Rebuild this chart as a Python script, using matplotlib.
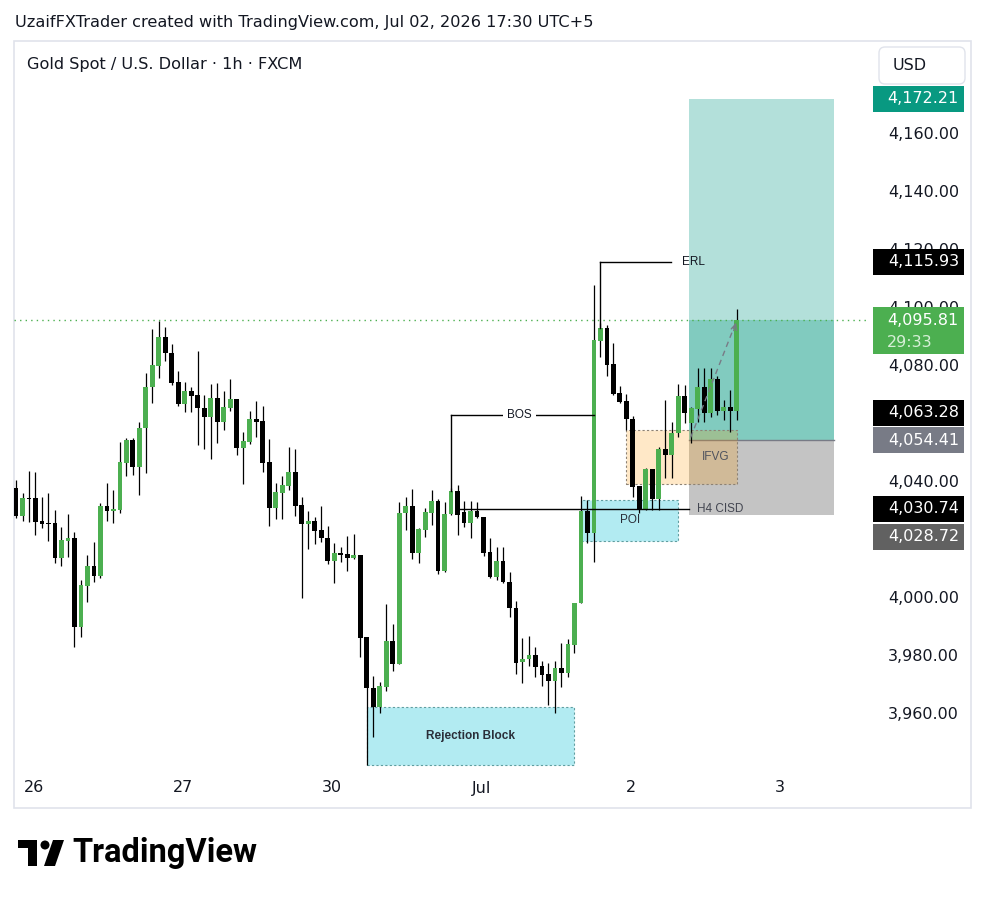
import matplotlib
matplotlib.use("Agg")
import matplotlib.pyplot as plt
from matplotlib.patches import Rectangle, Polygon, Circle, FancyBboxPatch
from matplotlib.transforms import blended_transform_factory

# XAUUSD 1h candles (oldest first)
opens = [4037.9, 4028.3, 4034.4, 4034.5, 4026.6, 4025.6, 4025.9, 4013.8, 4019.7, 4020.7,
         3990.0, 4004.1, 4011.0, 4007.6, 4031.7, 4030.0, 4030.3, 4046.6, 4054.5, 4045.2,
         4058.6, 4072.8, 4080.0, 4090.0, 4084.5, 4074.5, 4066.9, 4071.4, 4070.0, 4065.5,
         4062.4, 4069.0, 4060.7, 4065.5, 4068.6, 4051.7, 4053.8, 4061.7, 4061.0, 4046.9,
         4031.0, 4036.2, 4038.6, 4043.4, 4032.1, 4025.5, 4026.6, 4023.4, 4020.7, 4012.8,
         4015.5, 4015.2, 4013.8, 4014.8, 3986.6, 3969.0, 3962.4, 3969.3, 3985.2, 3977.2,
         4029.3, 4031.7, 4015.5, 4023.4, 4029.3, 4033.4, 4009.3, 4029.0, 4036.9, 4029.7,
         4025.9, 4030.0, 4027.9, 4015.9, 4007.2, 4012.8, 4005.5, 3996.6, 3977.9, 3979.0,
         3980.3, 3976.6, 3973.8, 3971.4, 3975.9, 3974.1, 3983.8, 3998.3, 4030.0, 4022.4,
         4088.6, 4093.1, 4080.7, 4070.7, 4067.9, 4061.7, 4038.6, 4030.3, 4044.5, 4034.1,
         4051.4, 4049.3, 4056.9, 4069.7, 4060.3, 4065.2, 4072.8, 4063.8, 4075.5, 4064.5,
         4065.9, 4064.5]
highs = [4040.7, 4036.2, 4043.8, 4043.4, 4034.8, 4036.2, 4030.3, 4024.5, 4029.0, 4022.8,
         4006.2, 4014.8, 4019.3, 4032.8, 4039.7, 4037.2, 4053.8, 4055.2, 4055.2, 4060.7,
         4077.6, 4092.8, 4095.5, 4093.4, 4087.6, 4078.3, 4074.5, 4072.8, 4085.2, 4070.0,
         4073.8, 4074.1, 4071.4, 4075.5, 4068.6, 4057.2, 4064.5, 4067.9, 4066.2, 4054.8,
         4039.7, 4042.1, 4052.1, 4051.4, 4034.8, 4030.0, 4027.9, 4031.7, 4024.8, 4019.0,
         4017.6, 4021.4, 4022.1, 4014.8, 3986.6, 3973.1, 3971.0, 3997.9, 3991.0, 4033.1,
         4034.8, 4037.6, 4024.1, 4031.0, 4037.2, 4034.1, 4033.1, 4038.0, 4039.0, 4033.4,
         4033.4, 4033.1, 4027.9, 4020.7, 4017.6, 4017.6, 4009.0, 3999.0, 3986.2, 3986.9,
         3983.1, 3978.3, 3977.6, 3978.3, 3984.5, 3985.9, 3998.3, 4035.2, 4033.8, 4107.9,
         4094.8, 4094.1, 4087.9, 4073.1, 4070.3, 4062.8, 4038.6, 4044.8, 4044.5, 4052.1,
         4068.3, 4060.7, 4073.8, 4073.4, 4065.9, 4079.3, 4079.3, 4079.3, 4076.6, 4068.3,
         4071.7, 4099.7]
lows = [4027.6, 4026.6, 4026.2, 4021.7, 4024.1, 4019.7, 4012.1, 4011.0, 4014.1, 3983.1,
        3986.6, 3998.6, 4005.5, 4006.9, 4026.6, 4025.9, 4029.3, 4042.1, 4042.4, 4035.5,
        4043.1, 4067.2, 4075.9, 4081.7, 4073.4, 4066.2, 4064.1, 4064.1, 4052.8, 4051.4,
        4047.9, 4053.4, 4057.9, 4064.5, 4049.3, 4039.3, 4053.1, 4055.5, 4043.4, 4024.8,
        4027.2, 4027.2, 4037.2, 4028.3, 4000.0, 4016.9, 4018.6, 4019.3, 4011.7, 4005.2,
        4012.4, 4009.3, 4013.4, 3979.7, 3942.4, 3952.1, 3960.3, 3967.9, 3974.8, 3977.2,
        4023.4, 4013.4, 4012.1, 4021.0, 4025.2, 4008.3, 4009.0, 4028.6, 4021.7, 4024.5,
        4020.7, 4027.6, 4014.5, 4006.9, 4006.2, 4005.2, 3993.4, 3973.8, 3970.7, 3976.6,
        3972.8, 3969.7, 3963.1, 3960.3, 3969.3, 3972.8, 3981.0, 3998.3, 4019.0, 4012.4,
        4083.1, 4076.6, 4070.0, 4067.2, 4057.9, 4034.8, 4029.3, 4030.3, 4030.3, 4030.3,
        4041.4, 4041.4, 4055.5, 4060.3, 4053.4, 4060.7, 4060.7, 4062.4, 4063.1, 4061.4,
        4057.2, 4061.4]
closes = [4028.3, 4034.5, 4034.2, 4026.2, 4025.7, 4025.4, 4013.8, 4020.0, 4020.7, 3990.0,
          4004.5, 4011.0, 4007.6, 4031.7, 4030.0, 4030.7, 4046.9, 4054.5, 4045.2, 4058.6,
          4072.8, 4080.3, 4090.0, 4084.5, 4074.1, 4066.9, 4071.4, 4069.7, 4065.5, 4062.4,
          4069.0, 4060.7, 4065.9, 4068.6, 4051.7, 4054.1, 4061.7, 4060.7, 4046.6, 4031.0,
          4036.6, 4039.0, 4043.4, 4031.7, 4025.5, 4026.6, 4023.1, 4020.7, 4012.8, 4015.5,
          4015.0, 4013.8, 4014.8, 3986.2, 3969.0, 3962.4, 3969.7, 3985.2, 3977.2, 4029.3,
          4031.7, 4015.5, 4023.8, 4029.7, 4033.4, 4009.3, 4029.0, 4036.9, 4028.6, 4025.9,
          4030.0, 4027.9, 4015.5, 4007.2, 4012.8, 4005.5, 3996.6, 3977.6, 3979.0, 3980.3,
          3976.2, 3973.4, 3971.4, 3975.9, 3974.1, 3984.1, 3998.3, 4030.0, 4022.4, 4089.0,
          4093.1, 4080.3, 4070.3, 4067.6, 4061.7, 4038.3, 4030.3, 4044.5, 4034.1, 4051.4,
          4049.3, 4056.9, 4069.7, 4063.8, 4065.5, 4072.8, 4063.8, 4075.5, 4064.5, 4065.9,
          4064.5, 4095.81]

day_labels = ["26", "27", "30", "Jul", "2", "3"]
day_starts = [3, 26, 49, 72, 95, 118]
# 4,060 and 4,020 sit fully under the price tags in the screenshot
price_ticks = [3960, 3980, 4000, 4040, 4080, 4100, 4120, 4140, 4160]

last_price = 4095.81
countdown = "29:33"
take_profit = 4172.21
entry = 4054.41
stop_loss = 4028.72
erl_level = 4115.93
bos_level = 4063.28
cisd_level = 4030.74

# drawn boxes: (first bar, last bar, low, high)
rejection_block = (54, 86, 3942.4, 3962.4)
poi_box = (87, 102, 4019.7, 4033.8)
ifvg_box = (94, 111, 4039.3, 4057.9)
position_bars = (103.7, 126)

GREEN = "#4caf50"
TEXT = "#131722"
W, H = 987, 898
L, R, T, B = 14, 866, 41, 775
ymin, ymax = 3938.97, 4192.1

fig = plt.figure(figsize=(W / 100, H / 100), dpi=100)
fig.patch.set_facecolor("white")
bg = fig.add_axes([0, 0, 1, 1])
bg.set_xlim(0, W)
bg.set_ylim(H, 0)
bg.axis("off")

ax = fig.add_axes([L / W, 1 - B / H, (R - L) / W, (B - T) / H])
ax.set_facecolor("none")
ax.set_xlim(-0.31, 130.9)
ax.set_ylim(ymin, ymax)
ax.axis("off")

# frame, header, currency box
bg.add_patch(Rectangle((14, 41), 957, 767, fill=False, ec="#e0e3eb", lw=1.2))
bg.text(15, 22, "UzaifFXTrader created with TradingView.com, Jul 02, 2026 17:30 UTC+5",
        fontsize=11.6, color=TEXT, va="center")
bg.text(27, 64, "Gold Spot / U.S. Dollar \u00b7 1h \u00b7 FXCM", fontsize=11.6,
        color=TEXT, va="center")
bg.add_patch(FancyBboxPatch((879, 47), 86, 37, boxstyle="round,pad=0,rounding_size=6",
                            fc="white", ec="#e0e3eb", lw=1))
bg.text(893, 66, "USD", fontsize=11.5, color=TEXT, va="center")

# logo
bg.add_patch(Rectangle((18, 840), 19, 8, fc="black", ec="none"))
bg.add_patch(Rectangle((28, 840), 9, 26, fc="black", ec="none"))
bg.add_patch(Circle((45, 845), 4.5, fc="black", ec="none"))
bg.add_patch(Polygon([(53, 840), (64, 840), (55, 866), (44, 866)], closed=True, fc="black", ec="none"))
bg.text(72, 853, "TradingView", fontsize=23.5, fontweight="bold", family="Roboto",
        color="black", va="center")

# long position tool
x0, x1 = position_bars
ax.add_patch(Rectangle((x0, entry), x1 - x0, take_profit - entry, fc="#b3e0da", ec="none", zorder=1))
ax.add_patch(Rectangle((x0, entry), x1 - x0, last_price - entry, fc="#81cbbf", ec="none", zorder=1.1))
ax.add_patch(Rectangle((x0, stop_loss), x1 - x0, entry - stop_loss, fc="#c4c4c4", ec="none", zorder=1))
ax.plot([x0, x1], [entry, entry], color="#787b86", lw=1, zorder=1.2)

# boxes
dotted = (0, (2, 2))
for a, b, lo, hi in [rejection_block, poi_box]:
    ax.add_patch(Rectangle((a, lo), b - a, hi - lo, fc="#b2ebf2", ec="#5f9ea0", lw=0.8,
                           ls=dotted, zorder=1.5))
a, b, lo, hi = ifvg_box
ax.add_patch(Rectangle((a, lo), b - a, hi - lo, fc=(1, 0.6, 0, 0.22), ec="#8d8274", lw=0.8,
                       ls=dotted, zorder=1.6))

# candles
for i, (o, h, l, c) in enumerate(zip(opens, highs, lows, closes)):
    col = GREEN if c >= o else "black"
    ax.vlines(i, l, h, color="black", lw=0.9, zorder=3)
    ax.add_patch(Rectangle((i - 0.37, min(o, c)), 0.74, max(abs(c - o), 0.35),
                           fc=col, ec="none", zorder=4))

# current price
ax.axhline(last_price, color=GREEN, ls=(0, (1, 3)), lw=1, zorder=2)
ax.plot([x0 + 0.2, len(closes) - 1], [entry + 1, last_price], color="#787b86",
        ls=(0, (4, 3)), lw=1, zorder=5)
ax.annotate("", xy=(len(closes) - 1, last_price), xytext=(len(closes) - 1.6, last_price - 4.5),
            arrowprops=dict(arrowstyle="->", color="#787b86", lw=1, mutation_scale=10), zorder=5)

# level drawings
ann_font = dict(family="Liberation Sans", fontsize=8.5)
ax.plot([90, 100.9], [erl_level, erl_level], color="black", lw=1, zorder=5)
ax.plot([90, 90], [erl_level, closes[90]], color="black", lw=1, zorder=5)
ax.text(102.6, erl_level, "ERL", color=TEXT, va="center", ha="left", zorder=6, **ann_font)

ax.plot([67, 89], [bos_level, bos_level], color="black", lw=1, zorder=5)
ax.plot([67, 67], [bos_level, closes[67]], color="black", lw=1, zorder=5)
ax.text(77.5, bos_level, "BOS", color=TEXT, va="center", ha="center", zorder=6,
        bbox=dict(fc="white", ec="none", pad=3), **ann_font)

ax.plot([67.7, x0], [cisd_level, cisd_level], color="black", lw=1, zorder=5)
ax.text(104.9, cisd_level, "H4 CISD", color="#434651", va="center", ha="left", zorder=6, **ann_font)

a, b, lo, hi = poi_box
ax.text((a + b) / 2, (lo + hi) / 2, "POI", color="#2a2e39", va="center", ha="center", zorder=6, **ann_font)
a, b, lo, hi = rejection_block
ax.text((a + b) / 2, (lo + hi) / 2, "Rejection Block", color="#2a2e39", va="center", ha="center",
        fontweight="bold", zorder=6, family="Liberation Sans", fontsize=8.5)
a, b, lo, hi = ifvg_box
ax.text(107.7, (lo + hi) / 2, "IFVG", color="#50535e", va="center", ha="center", zorder=6, **ann_font)

# price scale
yt = blended_transform_factory(bg.transData, ax.transData)
xt = blended_transform_factory(ax.transData, bg.transData)
unit = (ymax - ymin) / (B - T)

for p in price_ticks:
    ax.text(959, p, f"{p:,.2f}", transform=yt, ha="right", va="center", fontsize=11.5,
            color=TEXT, clip_on=False, zorder=7)


def price_tag(price, bgc, fg="white", shift=0):
    yc = price - shift * unit
    ax.add_patch(Rectangle((873, yc - 13 * unit), 91, 26 * unit, transform=yt, fc=bgc, ec="none",
                           clip_on=False, zorder=8))
    ax.text(959, yc, f"{price:,.2f}", transform=yt, ha="right", va="center", fontsize=11.5,
            color=fg, clip_on=False, zorder=9)


price_tag(take_profit, "#089981")
price_tag(erl_level, "black")
price_tag(bos_level, "black", shift=-2)
price_tag(entry, "#787b86")
price_tag(cisd_level, "black")
price_tag(stop_loss, "#616161", shift=22)
# last price with countdown
ax.add_patch(Rectangle((873, last_price - 34 * unit), 91, 47 * unit, transform=yt, fc=GREEN,
                       ec="none", clip_on=False, zorder=8))
ax.text(959, last_price, f"{last_price:,.2f}", transform=yt, ha="right", va="center",
        fontsize=11.5, color="white", clip_on=False, zorder=9)
ax.text(887, last_price - 22 * unit, countdown, transform=yt, ha="left", va="center",
        fontsize=11.5, color="#d6efd7", clip_on=False, zorder=9)

# time scale
for d, lab in zip(day_starts, day_labels):
    ax.text(d - 0.3, 788, lab, transform=xt, ha="center", va="center", fontsize=11.5,
            color=TEXT, clip_on=False)

fig.savefig("out.png", dpi=100)
